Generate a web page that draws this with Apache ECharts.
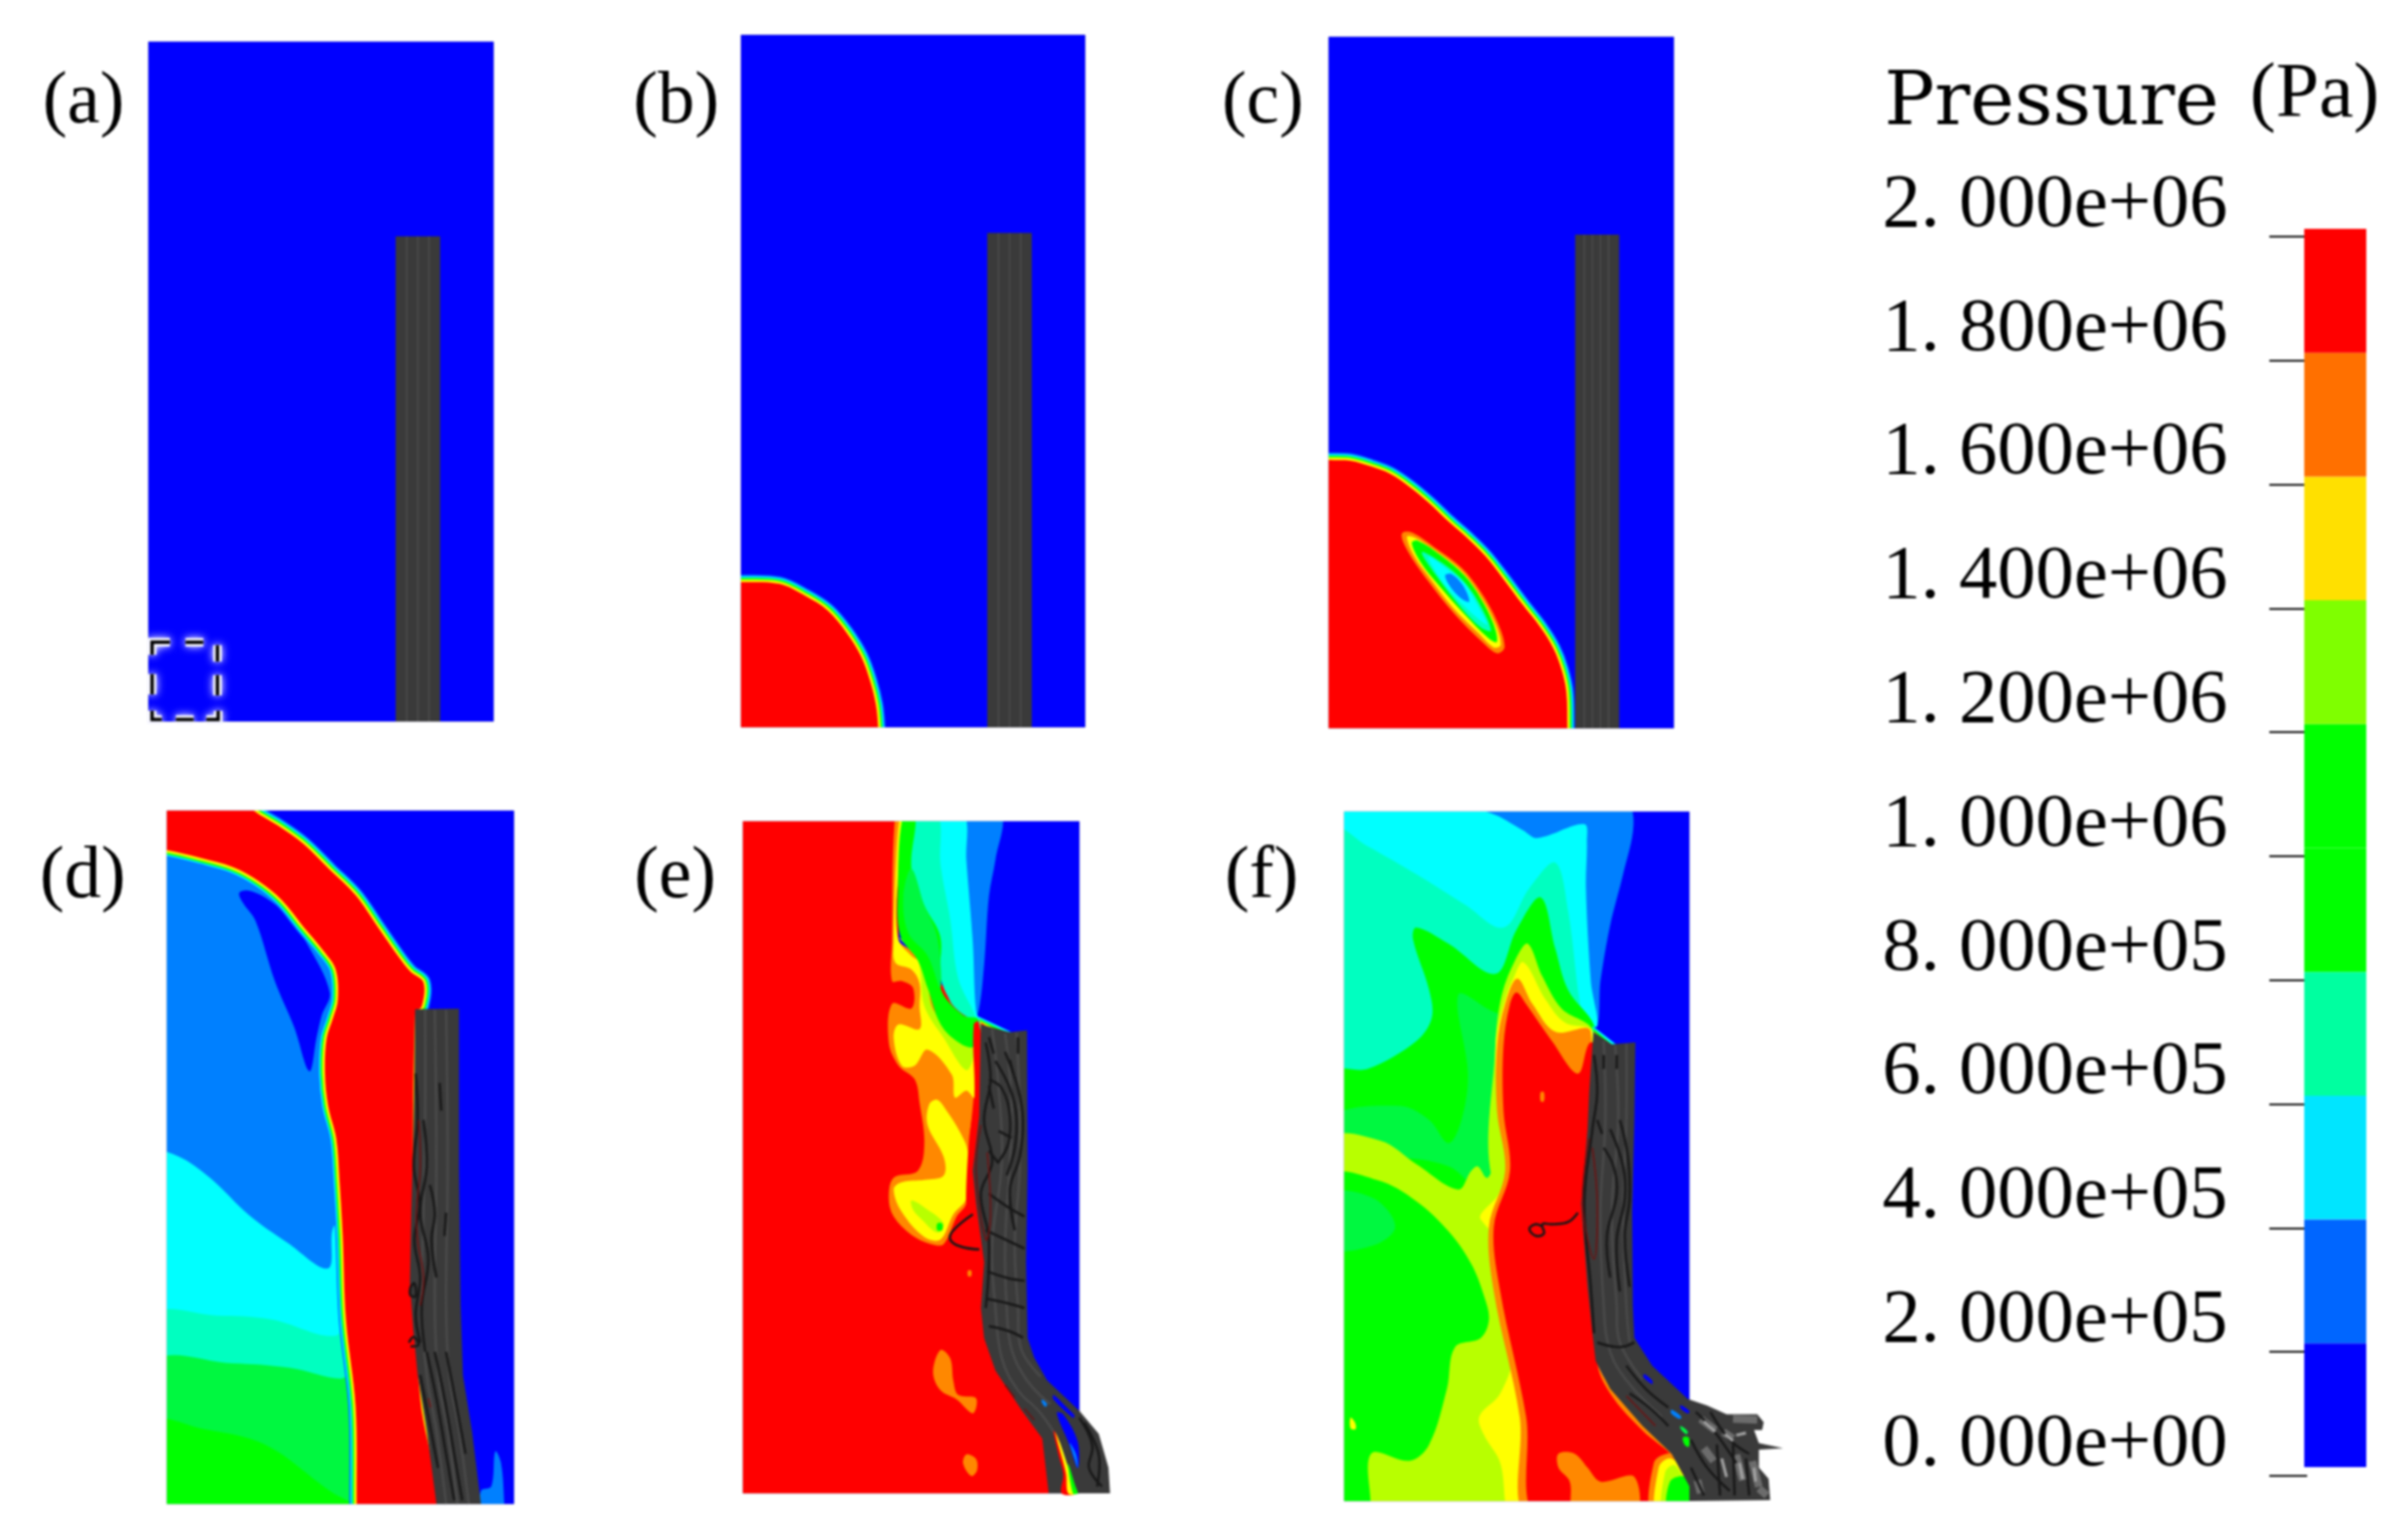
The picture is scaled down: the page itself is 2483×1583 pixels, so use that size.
<!DOCTYPE html>
<html>
<head>
<meta charset="utf-8">
<style>
  html, body { margin: 0; background: #fff; }
  #main { width: 2483px; height: 1583px; filter: blur(0.8px); }
</style>
<script src="https://cdn.jsdelivr.net/npm/echarts@6/dist/echarts.min.js"></script>
</head>
<body>
<div id="main"></div>
<script>
// colour bar
const tickValues = [0, 200000, 400000, 600000, 800000, 1000000, 1200000, 1400000, 1600000, 1800000, 2000000];
const tickLabels = ['0. 000e+00', '2. 000e+05', '4. 000e+05', '6. 000e+05', '8. 000e+05', '1. 000e+06',
  '1. 200e+06', '1. 400e+06', '1. 600e+06', '1. 800e+06', '2. 000e+06'];
const bandSizes = [200000, 200000, 200000, 200000, 200000, 200000, 200000, 200000, 200000, 200000];
const panelNames = ['(a)', '(b)', '(c)', '(d)', '(e)', '(f)'];

// contour levels, 0 = lowest pressure band ... 9 = highest.
// every panel uses its own length units, [xmin, xmax, ymin, ymax], y running downwards
const rangeA = [200, 665, 87, 1495];
const rangeB = [998, 1462, 73, 1507];
const rangeC = [90, 1157, -1146, 992];
const rangeD = [96, 1170, 33, 1528];
const rangeE = [78, 1120, 36, 1505];
const rangeF = [77, 1145, 35, 1522];

const full = r => [[r[0], r[2]], [r[1], r[2]], [r[1], r[3]], [r[0], r[3]]];

const fieldA = [
  { level: 0, sharp: 1, pts: full(rangeA) }
];
const fieldB = [
  { level: 0, sharp: 1, pts: full(rangeB) },
  { level: 9, front: 1, pts: [[940, 1205], [998, 1206], [1050, 1210], [1085, 1235], [1115, 1265], [1140, 1310], [1160, 1360], [1172, 1410], [1180, 1460], [1183, 1507], [1184, 1560], [940, 1560]] }
];
const fieldC = [
  { level: 0, sharp: 1, pts: full(rangeC) },
  { level: 9, front: 1, pts: [[40, 160], [90, 162], [160, 165], [220, 182], [280, 205], [340, 245], [400, 295], [460, 352], [520, 405], [575, 460], [630, 530], [690, 610], [745, 680], [785, 745], [810, 810], [825, 880], [828, 992], [828, 1060], [40, 1060]] },
  { level: 8, pts: [[318, 388], [350, 388], [420, 435], [500, 495], [560, 570], [610, 660], [634, 740], [612, 760], [570, 730], [480, 640], [400, 540], [350, 470], [320, 415]] },
  { level: 7, pts: [[332, 400], [355, 402], [430, 450], [505, 510], [560, 585], [605, 670], [622, 735], [600, 742], [555, 700], [475, 620], [405, 530], [355, 460]] },
  { level: 5, pts: [[347, 420], [365, 412], [440, 460], [510, 520], [560, 590], [600, 670], [610, 725], [585, 715], [510, 640], [430, 550], [375, 480]] },
  { level: 3, pts: [[378, 448], [440, 480], [505, 535], [555, 605], [592, 690], [560, 680], [500, 620], [430, 530]] },
  { level: 2, pts: [[400, 462], [450, 495], [510, 545], [555, 620], [580, 672], [520, 625], [450, 550], [410, 490]] },
  { level: 1, pts: [[450, 520], [470, 515], [505, 550], [525, 600], [505, 595], [470, 560]] }
];
const fieldD = [
  { level: 0, sharp: 1, pts: full(rangeD) },
  { level: 1, pts: [[60, 120], [200, 135], [300, 155], [380, 185], [450, 225], [520, 285], [580, 335], [618, 375], [625, 440], [610, 480], [590, 525], [585, 600], [595, 670], [620, 740], [630, 830], [640, 950], [650, 1130], [680, 1320], [683, 1580], [60, 1580]] },
  { level: 0, pts: [[320, 210], [345, 205], [400, 220], [470, 260], [530, 320], [600, 425], [575, 475], [560, 520], [537, 595], [490, 500], [430, 400], [370, 270], [330, 230]] },
  { level: 2, pts: [[60, 772], [130, 778], [230, 825], [350, 905], [470, 965], [595, 1020], [612, 930], [660, 930], [720, 1580], [60, 1580]] },
  { level: 3, pts: [[60, 1125], [250, 1122], [420, 1130], [620, 1165], [660, 1100], [720, 1580], [60, 1580]] },
  { level: 4, pts: [[60, 1225], [300, 1225], [480, 1235], [635, 1258], [680, 1240], [720, 1580], [60, 1580]] },
  { level: 5, pts: [[60, 1352], [200, 1365], [400, 1400], [600, 1500], [690, 1540], [690, 1580], [60, 1580]] },
  { level: 1, pts: [[1068, 1500], [1100, 1490], [1112, 1415], [1130, 1440], [1140, 1528], [1140, 1560], [1068, 1560]] },
  { level: 9, front: 1, pts: [[40, 115], [96, 118], [200, 135], [300, 155], [380, 185], [450, 225], [520, 285], [580, 335], [618, 375], [625, 440], [610, 480], [590, 525], [585, 600], [595, 670], [620, 740], [630, 830], [640, 950], [650, 1130], [680, 1320], [683, 1528], [683, 1600], [683, 1680], [930, 1680], [930, 1500], [880, 1300], [860, 1000], [864, 470], [885, 455], [890, 403], [850, 380], [815, 350], [750, 285], [680, 215], [600, 160], [520, 105], [440, 65], [365, 33], [300, -10], [40, -10]] }
];
const fieldE = [
  { level: 0, sharp: 1, pts: full(rangeE) },
  { level: 9, sharp: 1, pts: [[78, 36], [560, 36], [560, 300], [820, 480], [900, 1100], [1100, 1505], [78, 1505]] },
  { level: 1, pts: [[755, 20], [877, 20], [860, 120], [840, 200], [825, 350], [808, 450], [790, 470], [700, 300]] },
  { level: 2, pts: [[670, 20], [762, 20], [770, 120], [790, 300], [800, 450], [815, 480], [700, 400], [670, 200]] },
  { level: 3, pts: [[590, 20], [680, 20], [690, 130], [720, 250], [745, 380], [800, 470], [720, 430], [640, 250], [590, 130]] },
  { level: 8, pts: [[550, 20], [575, 20], [565, 130], [555, 290], [640, 340], [680, 460], [790, 530], [810, 470], [800, 580], [790, 660], [780, 735], [770, 870], [740, 900], [700, 960], [660, 960], [600, 940], [545, 900], [530, 860], [545, 815], [620, 800], [640, 740], [625, 650], [610, 600], [560, 570], [530, 520], [540, 435], [600, 445], [605, 400], [570, 385], [540, 385], [540, 300]] },
  { level: 7, pts: [[565, 20], [577, 20], [560, 130], [558, 290], [600, 330], [640, 350], [670, 460], [780, 530], [793, 480], [800, 500], [795, 640], [770, 625], [735, 640], [725, 590], [650, 535], [610, 570], [570, 570], [545, 510], [560, 480], [625, 490], [625, 440], [625, 390], [600, 360], [550, 345], [545, 300], [552, 130]] },
  { level: 7, pts: [[680, 645], [710, 670], [750, 715], [775, 760], [770, 860], [730, 895], [690, 950], [640, 945], [570, 890], [545, 840], [570, 825], [640, 820], [700, 810], [700, 770], [650, 700], [655, 655]] },
  { level: 6, pts: [[560, 290], [640, 340], [670, 450], [790, 530], [770, 580], [700, 510], [640, 440], [620, 340]] },
  { level: 6, pts: [[600, 865], [640, 880], [700, 915], [680, 935], [630, 905], [605, 885]] },
  { level: 5, pts: [[680, 915], [695, 915], [695, 930], [680, 930]] },
  { level: 5, pts: [[575, 20], [612, 20], [600, 140], [640, 220], [690, 290], [690, 400], [760, 460], [810, 470], [790, 530], [700, 490], [650, 400], [620, 340], [565, 285], [558, 180]] },
  { level: 4, pts: [[600, 140], [640, 220], [680, 290], [690, 400], [650, 330], [590, 280], [575, 200]] },
  { level: 9, pts: [[793, 480], [815, 475], [815, 620], [800, 720], [790, 800], [770, 870], [778, 735], [795, 640]] },
  { level: 8, pts: [[690, 1192], [720, 1210], [730, 1260], [745, 1290], [800, 1297], [790, 1330], [740, 1300], [690, 1280], [667, 1240]] },
  { level: 8, pts: [[770, 1420], [800, 1430], [803, 1455], [785, 1467], [760, 1440]] },
  { level: 8, pts: [[775, 1018], [785, 1018], [785, 1030], [775, 1030]] },
  { level: 2, sharp: 1, pts: [[805, 462], [910, 497], [815, 497]] },
  { level: 5, sharp: 1, pts: [[810, 468], [895, 497], [815, 497]] },
  { level: 7, sharp: 1, pts: [[812, 472], [880, 497], [815, 497]] },
  { level: 9, sharp: 1, pts: [[815, 476], [860, 497], [815, 497]] }
];
const fieldF = [
  { level: 0, sharp: 1, pts: full(rangeF) },
  { level: 1, pts: [[350, 20], [950, 20], [972, 65], [940, 170], [900, 280], [870, 400], [855, 490], [700, 300], [600, 100]] },
  { level: 2, pts: [[40, 15], [380, 20], [530, 38], [630, 75], [675, 92], [820, 62], [828, 100], [825, 200], [840, 400], [855, 500], [700, 400], [560, 400], [40, 300]] },
  { level: 3, pts: [[40, 70], [150, 110], [300, 170], [450, 235], [570, 285], [650, 200], [730, 145], [770, 250], [815, 480], [850, 510], [700, 700], [40, 700]] },
  { level: 5, pts: [[40, 600], [150, 590], [300, 530], [348, 480], [340, 420], [290, 310], [300, 285], [400, 320], [545, 385], [610, 290], [685, 220], [730, 330], [770, 420], [850, 495], [840, 530], [800, 900], [500, 1560], [40, 1560]] },
  { level: 4, pts: [[40, 690], [250, 670], [340, 700], [400, 750], [440, 700], [460, 600], [430, 430], [520, 460], [600, 500], [560, 900], [400, 800], [40, 760]] },
  { level: 6, pts: [[40, 745], [190, 745], [300, 795], [430, 850], [470, 810], [490, 800], [520, 825], [560, 780], [700, 1000], [700, 1560], [40, 1560]] },
  { level: 5, pts: [[40, 825], [180, 830], [300, 875], [400, 940], [470, 1010], [510, 1080], [525, 1130], [500, 1170], [420, 1190], [395, 1280], [340, 1400], [280, 1435], [160, 1420], [150, 1560], [40, 1560]] },
  { level: 4, pts: [[40, 860], [170, 870], [235, 930], [170, 970], [40, 975]] },
  { level: 6, pts: [[645, 320], [690, 390], [750, 460], [845, 505], [850, 600], [700, 900], [540, 840], [545, 540], [565, 430], [610, 350]] },
  { level: 7, pts: [[632, 360], [700, 440], [760, 490], [845, 508], [850, 600], [700, 1000], [500, 915], [555, 860], [585, 800], [560, 680], [545, 540], [575, 440], [600, 395]] },
  { level: 7, pts: [[495, 1340], [560, 1290], [600, 1200], [560, 1050], [640, 1200], [660, 1560], [590, 1560], [560, 1440], [510, 1380]] },
  { level: 8, pts: [[613, 395], [660, 450], [730, 510], [840, 510], [850, 1200], [1100, 1430], [1045, 1430], [1000, 1560], [645, 1560], [620, 1340], [540, 1070], [525, 930], [575, 810], [550, 680], [550, 540], [575, 450]] },
  { level: 9, pts: [[610, 425], [640, 450], [720, 530], [800, 600], [835, 535], [860, 540], [860, 1220], [900, 1290], [1000, 1370], [1090, 1425], [1045, 1430], [1030, 1560], [675, 1560], [640, 1340], [560, 1070], [540, 930], [590, 810], [570, 680], [570, 540], [590, 450]] },
  { level: 8, pts: [[685, 640], [695, 640], [695, 660], [685, 660]] },
  { level: 7, pts: [[97, 1342], [112, 1355], [112, 1367], [97, 1365]] },
  { level: 8, pts: [[740, 1420], [790, 1420], [830, 1450], [870, 1480], [975, 1470], [975, 1560], [790, 1560], [775, 1480], [740, 1450]] },
  { level: 8, pts: [[1030, 1560], [1035, 1440], [1075, 1420], [1110, 1430], [1140, 1480], [1150, 1560]] },
  { level: 7, pts: [[1045, 1560], [1050, 1450], [1080, 1430], [1110, 1440], [1135, 1480], [1150, 1560]] },
  { level: 6, pts: [[1065, 1560], [1070, 1460], [1100, 1445], [1135, 1490], [1150, 1560]] },
  { level: 5, pts: [[1080, 1560], [1085, 1480], [1135, 1472], [1150, 1560]] },
  { level: 2, sharp: 1, pts: [[845, 497], [918, 537], [850, 537]] },
  { level: 5, sharp: 1, pts: [[848, 503], [905, 537], [850, 537]] },
  { level: 7, sharp: 1, pts: [[850, 508], [890, 537], [850, 537]] },
  { level: 9, sharp: 1, pts: [[850, 513], [875, 537], [850, 537]] }
];

// fibre bundle outlines
const towA = [[533, 490], [593, 490], [593, 1495], [533, 1495]];
const towB = [[1330, 483], [1390, 483], [1390, 1507], [1330, 1507]];
const towC = [[852, -534], [988, -534], [988, 992], [852, 992]];
const towD = [[864, 461], [1000, 460], [1000, 800], [1005, 1100], [1012, 1250], [1040, 1370], [1068, 1528], [930, 1528], [900, 1370], [872, 1250], [858, 1150], [848, 1050], [852, 900], [858, 750], [862, 600]];
const towE = [[815, 480], [905, 497], [958, 493], [960, 800], [955, 1000], [960, 1166], [980, 1208], [1020, 1258], [1120, 1325], [1180, 1375], [1210, 1449], [1215, 1505], [1025, 1505], [1005, 1385], [940, 1322], [860, 1237], [825, 1166], [815, 1100], [825, 1000], [800, 870], [790, 800], [810, 680]];
const towF = [[848, 510], [905, 537], [978, 533], [975, 700], [968, 900], [970, 1100], [975, 1170], [1030, 1230], [1140, 1302], [1200, 1316], [1260, 1335], [1355, 1335], [1375, 1352], [1370, 1369], [1345, 1369], [1360, 1397], [1435, 1408], [1360, 1411], [1360, 1450], [1390, 1474], [1395, 1520], [1145, 1522], [1145, 1490], [1090, 1420], [1000, 1360], [900, 1280], [855, 1220], [845, 1160], [830, 1060], [810, 880], [830, 720], [835, 640]];

// fibre lines inside the bundles
const fibresA = [[[548, 490], [548, 1495]], [[563, 490], [563, 1495]], [[578, 490], [578, 1495]]];
const fibresB = [[[1345, 483], [1345, 1507]], [[1360, 483], [1360, 1507]], [[1375, 483], [1375, 1507]]];
const fibresC = [[[880, -534], [880, 992]], [[905, -534], [905, 992]], [[930, -534], [930, 992]], [[955, -534], [955, 992]]];
const fibresD = [
  [[895, 462], [895, 700], [890, 900], [885, 1100], [900, 1250], [930, 1370], [960, 1528]],
  [[925, 462], [930, 800], [925, 1100], [935, 1250], [965, 1370], [995, 1528]],
  [[960, 462], [965, 800], [960, 1100], [970, 1250], [1000, 1370], [1030, 1528]]
];
const darkD = [
  [[866, 600], [872, 700], [860, 800], [878, 880], [862, 960], [880, 1040], [866, 1120], [880, 1180]],
  [[890, 700], [900, 800], [880, 900], [905, 1000], [885, 1100], [895, 1200]],
  [[850, 1060], [862, 1052], [866, 1080], [850, 1078], [850, 1060]],
  [[845, 1180], [860, 1168], [875, 1185], [850, 1188]],
  [[910, 840], [925, 900], [915, 960], [930, 1040]],
  [[940, 620], [945, 680]],
  [[960, 900], [955, 950]],
  [[900, 1200], [930, 1300], [960, 1420], [985, 1520]],
  [[925, 1200], [955, 1300], [985, 1420], [1010, 1520]],
  [[880, 1250], [905, 1340], [935, 1450]],
  [[960, 1200], [985, 1290], [1020, 1420]]
];
const redD = [
  [[875, 700], [880, 800], [868, 900], [872, 960], [890, 1040], [880, 1100]],
  [[905, 1300], [912, 1320]]
];
const fibresE = [
  [[850, 490], [870, 620], [880, 780], [850, 960], [860, 1100], [880, 1210], [930, 1280], [1000, 1330], [1060, 1400], [1100, 1505]],
  [[890, 500], [910, 650], [905, 780], [890, 960], [895, 1100], [910, 1190], [960, 1260], [1030, 1310]],
  [[925, 497], [935, 650], [935, 800], [920, 960], [930, 1100], [940, 1190], [1000, 1250]]
];
const darkE = [
  [[830, 520], [845, 600], [825, 690], [850, 780], [815, 850], [840, 950], [830, 1100]],
  [[840, 508], [855, 544]],
  [[905, 558], [915, 586]],
  [[840, 614], [855, 664]],
  [[870, 713], [910, 728]],
  [[840, 756], [870, 784]],
  [[930, 508], [930, 544]],
  [[840, 600], [880, 620], [905, 680], [900, 740], [870, 780]],
  [[860, 560], [905, 620], [925, 680], [920, 750], [895, 810]],
  [[890, 540], [930, 620], [945, 690], [935, 770], [905, 840], [920, 930]],
  [[840, 850], [900, 880], [950, 900]],
  [[830, 930], [890, 950], [950, 970]],
  [[835, 1020], [900, 1035], [950, 1040]],
  [[835, 1080], [900, 1090], [950, 1100]],
  [[840, 1140], [900, 1150], [945, 1165]],
  [[790, 895], [730, 930], [720, 950], [750, 965], [810, 972]],
  [[1060, 1330], [1110, 1420]],
  [[1120, 1340], [1160, 1400], [1150, 1450], [1190, 1490]],
  [[1135, 1350], [1180, 1420], [1175, 1490]]
];
const redE = [
  [[815, 700], [800, 800], [830, 950], [845, 900], [835, 760]],
  [[890, 1268], [920, 1296]],
  [[950, 1320], [980, 1345]]
];
const fibresF = [
  [[880, 530], [885, 700], [870, 900], [880, 1100], [900, 1200], [960, 1270], [1060, 1340]],
  [[915, 540], [925, 700], [905, 900], [920, 1100], [930, 1180], [1000, 1260]],
  [[950, 535], [950, 700], [940, 900], [950, 1100], [960, 1180]]
];
const darkF = [
  [[850, 560], [860, 640], [845, 720], [820, 880], [840, 1060], [850, 1160]],
  [[880, 560], [880, 590]],
  [[920, 560], [920, 590]],
  [[860, 700], [875, 730]],
  [[880, 760], [910, 800], [920, 860], [890, 950], [900, 1040]],
  [[900, 720], [940, 800], [945, 870], [920, 960], [930, 1070]],
  [[930, 700], [955, 780], [960, 870], [945, 950], [960, 1060]],
  [[860, 1180], [930, 1190], [975, 1180]],
  [[950, 1230], [1010, 1280], [1080, 1320]],
  [[960, 1290], [1020, 1320], [1080, 1360]],
  [[800, 900], [770, 920], [720, 925], [690, 925], [695, 945], [670, 950], [650, 935], [670, 925], [690, 930]],
  [[1165, 1330], [1220, 1370], [1290, 1440]],
  [[1150, 1390], [1200, 1450], [1270, 1500]],
  [[1210, 1330], [1270, 1390], [1330, 1420]],
  [[1150, 1450], [1190, 1510]],
  [[1230, 1400], [1240, 1510]],
  [[1280, 1400], [1285, 1510]],
  [[1320, 1430], [1330, 1510]]
];
const redF = [
  [[835, 740], [815, 880], [850, 1000], [860, 880], [845, 760]],
  [[950, 1295], [1040, 1360]]
];
const greyF = [
  [[1280, 1345], [1355, 1347]],
  [[1180, 1345], [1225, 1369]],
  [[1250, 1373], [1280, 1387]],
  [[1290, 1422], [1310, 1477]],
  [[1340, 1436], [1360, 1491]],
  [[1190, 1408], [1220, 1436]],
  [[1170, 1477], [1180, 1505]],
  [[1360, 1495], [1385, 1510]]
];
const paleF = [
  [[1190, 1350], [1225, 1372]],
  [[1255, 1378], [1280, 1392]],
  [[1245, 1430], [1260, 1470]],
  [[1300, 1440], [1310, 1475]],
  [[1345, 1450], [1350, 1480]],
  [[1290, 1380], [1320, 1375]]
];
// pressure patches showing between the fibres
const chipsE = [
  { level: 9, pts: [[1040, 1368], [1055, 1385], [1090, 1470], [1108, 1505], [1065, 1505], [1070, 1463], [1055, 1420]] },
  { level: 7, pts: [[1045, 1372], [1060, 1395], [1095, 1470], [1110, 1505], [1085, 1505], [1078, 1460]] },
  { level: 5, pts: [[1085, 1440], [1108, 1490], [1115, 1505], [1100, 1505]] },
  { level: 0, pts: [[1050, 1329], [1070, 1332], [1115, 1392], [1115, 1450], [1085, 1392]] },
  { level: 1, pts: [[1090, 1395], [1110, 1420], [1115, 1450], [1105, 1430]] },
  { level: 0, pts: [[1040, 1290], [1085, 1320], [1105, 1335], [1100, 1340], [1040, 1300]] },
  { level: 1, pts: [[1005, 1300], [1020, 1310], [1015, 1316], [1003, 1305]] }
];
const chipsF = [
  { level: 0, pts: [[1005, 1248], [1030, 1262], [1030, 1270], [1003, 1255]] },
  { level: 1, pts: [[1090, 1325], [1120, 1340], [1115, 1345], [1088, 1332]] },
  { level: 0, pts: [[1118, 1315], [1145, 1328], [1140, 1333], [1118, 1322]] },
  { level: 5, pts: [[1125, 1385], [1143, 1385], [1143, 1405], [1130, 1400]] },
  { level: 4, pts: [[1118, 1360], [1140, 1372], [1136, 1378], [1118, 1366]] }
];
// dashed marker in panel (a)
const markerA = [
  [[205, 1357], [205, 1331], [229, 1331]],
  [[250, 1331], [274, 1331]],
  [[293, 1337], [293, 1371]],
  [[293, 1399], [293, 1441]],
  [[294, 1473], [294, 1491], [278, 1491]],
  [[237, 1491], [261, 1491]],
  [[205, 1473], [205, 1491], [218, 1491]],
  [[205, 1397], [205, 1439]]
];

// styles and layout
const fieldColors = ['#0000ff', '#0080ff', '#00ffff', '#00ffc0', '#00f840', '#00ff00', '#b8ff00', '#ffff00', '#ff8800', '#ff0000'];
const legendColors = ['#0000ff', '#0066ff', '#00e5ff', '#00ffa0', '#00ff00', '#00ff00', '#7fff00', '#ffe000', '#ff7000', '#ff0000'];
const frontWidths = [[1, 15], [2, 11.5], [5, 8.5], [7, 5]];
const boxes = [
  [153, 43, 356, 701], [764, 36, 355, 714], [1370, 38, 356, 713],
  [172, 836, 358, 715], [766, 847, 347, 693], [1386, 837, 356, 711]
];
const labelPos = [[44, 68], [653, 68], [1260, 68], [41, 867], [654, 867], [1263, 867]];
const serif = '"Liberation Serif", serif';

function fieldItem(layer, api) {
  const points = layer.pts.map(p => api.coord(p));
  const smooth = layer.sharp ? 0 : 0.35;
  const children = [];
  if (layer.front) {
    frontWidths.forEach(w => {
      children.push({ type: 'polygon', shape: { points, smooth }, style: { fill: 'none', stroke: fieldColors[w[0]], lineWidth: w[1], lineJoin: 'round' } });
    });
  }
  children.push({ type: 'polygon', shape: { points, smooth }, style: { fill: fieldColors[layer.level] } });
  return { type: 'group', children };
}

function fieldSeries(i, layers, clip) {
  return {
    type: 'custom', coordinateSystem: 'cartesian2d', xAxisIndex: i, yAxisIndex: i, clip: clip, silent: true,
    data: layers.map((l, k) => [l.level, k]),
    encode: { x: 0, y: 1 },
    renderItem: (params, api) => fieldItem(layers[params.dataIndex], api)
  };
}

function lineSeries(i, lines, style, smooth) {
  return {
    type: 'custom', coordinateSystem: 'cartesian2d', xAxisIndex: i, yAxisIndex: i, silent: true,
    data: lines.map((l, k) => [k, k]),
    encode: { x: 0, y: 1 },
    renderItem: (params, api) => ({
      type: 'polyline',
      shape: { points: lines[params.dataIndex].map(p => api.coord(p)), smooth },
      style: Object.assign({ fill: 'none' }, style)
    })
  };
}

function towSeries(i, outline) {
  return {
    type: 'custom', coordinateSystem: 'cartesian2d', xAxisIndex: i, yAxisIndex: i, silent: true,
    data: [[0, 0]],
    encode: { x: 0, y: 1 },
    renderItem: (params, api) => ({
      type: 'polygon',
      shape: { points: outline.map(p => api.coord(p)) },
      style: { fill: '#3a3a3a' }
    })
  };
}

const stripe = { stroke: '#4c4c4c', lineWidth: 1.5 };
const fibre = { stroke: '#4a4a4a', lineWidth: 2.5 };
const dark = { stroke: '#181818', lineWidth: 2.5 };
const darkRed = { stroke: '#701010', lineWidth: 1.5 };
const grey = { stroke: '#6c6c6c', lineWidth: 8 };
const pale = { stroke: '#a4a4a4', lineWidth: 3 };

const ranges = [rangeA, rangeB, rangeC, rangeD, rangeE, rangeF];
const grids = boxes.map(b => ({ left: b[0], top: b[1], width: b[2], height: b[3], show: true, borderColor: '#b8b8c8', borderWidth: 1 }));
const xAxes = ranges.map((r, i) => ({ type: 'value', gridIndex: i, min: r[0], max: r[1], show: false }));
const yAxes = ranges.map((r, i) => ({ type: 'value', gridIndex: i, min: r[2], max: r[3], inverse: true, show: false }));

// tick axis of the colour bar
grids.push({ left: 2379, top: 244, width: 1, height: 1278 });
xAxes.push({ type: 'value', gridIndex: 6, show: false });
yAxes.push({
  type: 'value', gridIndex: 6, min: 0, max: 2000000, interval: 200000,
  axisLine: { show: false },
  axisTick: { show: true, length: 39, lineStyle: { color: '#111', width: 2 } },
  splitLine: { show: false },
  axisLabel: {
    margin: 82, fontFamily: serif, fontSize: 79, color: '#000', verticalAlign: 'bottom', lineHeight: 64,
    formatter: v => tickLabels[tickValues.indexOf(Math.round(v))]
  }
});
// colour bar itself
grids.push({ left: 2376, top: 236, width: 64, height: 1277 });
xAxes.push({ type: 'category', gridIndex: 7, data: ['Pressure'], show: false });
yAxes.push({ type: 'value', gridIndex: 7, min: 0, max: 2000000, show: false });

const series = [
  fieldSeries(0, fieldA, true), towSeries(0, towA), lineSeries(0, fibresA, stripe, 0),
  fieldSeries(1, fieldB, true), towSeries(1, towB), lineSeries(1, fibresB, stripe, 0),
  fieldSeries(2, fieldC, true), towSeries(2, towC), lineSeries(2, fibresC, stripe, 0),
  fieldSeries(3, fieldD, true), towSeries(3, towD), lineSeries(3, fibresD, fibre, 0.4), lineSeries(3, darkD, dark, 0.4), lineSeries(3, redD, darkRed, 0.4),
  fieldSeries(4, fieldE, true), towSeries(4, towE), lineSeries(4, fibresE, fibre, 0.4), lineSeries(4, darkE, dark, 0.4), lineSeries(4, redE, darkRed, 0.4), fieldSeries(4, chipsE, false),
  fieldSeries(5, fieldF, true), towSeries(5, towF), lineSeries(5, fibresF, fibre, 0.4), lineSeries(5, greyF, grey, 0), lineSeries(5, darkF, dark, 0.4), lineSeries(5, redF, darkRed, 0.4), lineSeries(5, paleF, pale, 0), fieldSeries(5, chipsF, false),
  lineSeries(0, markerA, { stroke: '#f4f4ff', lineWidth: 9, shadowColor: '#ffffff', shadowBlur: 8 }, 0),
  lineSeries(0, markerA, { stroke: '#000000', lineWidth: 3.5 }, 0)
];

bandSizes.forEach((size, i) => {
  series.push({
    type: 'bar', xAxisIndex: 7, yAxisIndex: 7, stack: 'bar', barWidth: '100%', silent: true,
    data: [size],
    itemStyle: { color: legendColors[i] }
  });
});

const graphic = panelNames.map((name, i) => ({
  type: 'text', left: labelPos[i][0], top: labelPos[i][1], silent: true,
  style: { text: name, font: '76px ' + serif, fill: '#000' }
}));
graphic.push({ type: 'text', left: 1943, top: 69, silent: true, style: { text: 'Pressure', font: '77px "DejaVu Serif", serif', fill: '#000' } });
graphic.push({ type: 'text', left: 2320, top: 59, silent: true, style: { text: '(Pa)', font: '80px ' + serif, fill: '#000' } });

const chart = echarts.init(document.getElementById('main'), null, { renderer: 'canvas' });
chart.setOption({
  animation: false,
  backgroundColor: '#ffffff',
  tooltip: { show: false },
  grid: grids, xAxis: xAxes, yAxis: yAxes, series, graphic
});
</script>
</body>
</html>
